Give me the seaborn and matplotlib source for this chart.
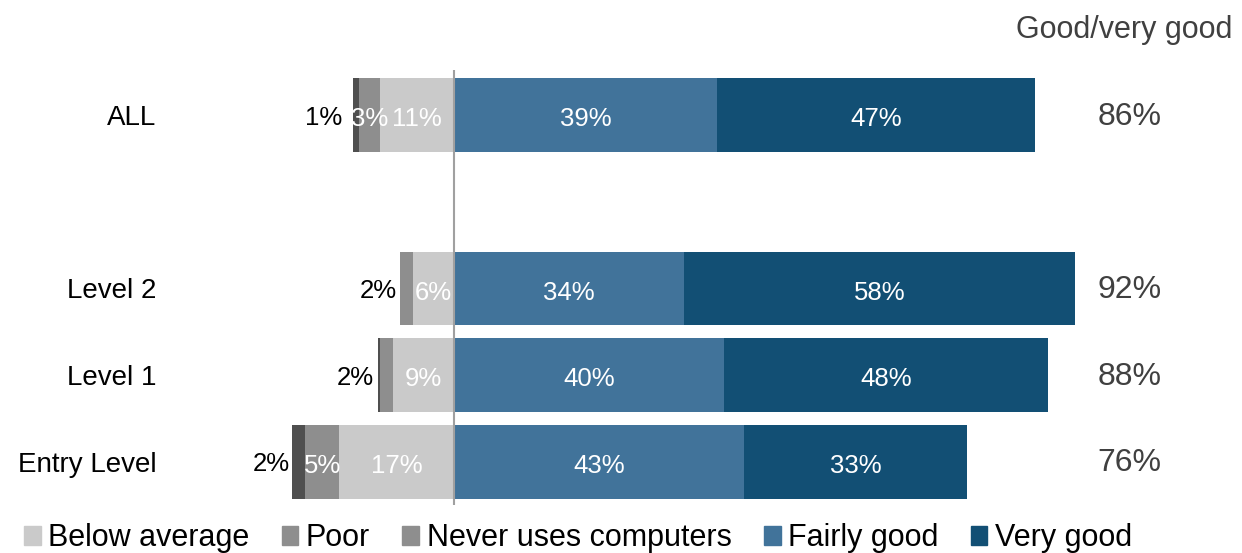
import pandas as pd
import seaborn as sns
import matplotlib.pyplot as plt
from matplotlib.patches import Patch

# data
categories = ["ALL", "Level 2", "Level 1", "Entry Level"]
below_avg = [11, 6, 9, 17]
poor = [3, 2, 2, 5]
never = [1, 0, 0.3, 2]
fairly_good = [39, 34, 40, 43]
very_good = [47, 58, 48, 33]
good_total = ["86%", "92%", "88%", "76%"]
order = ["ALL", " ", "Level 2", "Level 1", "Entry Level"]

c_below = "#cacaca"
c_poor = "#8e8e8e"
c_never = "#4f4f4f"
c_fair = "#41739a"
c_very = "#124f74"

sns.set_theme(style="white")
plt.rcParams["font.family"] = ["Liberation Sans", "DejaVu Sans"]

df = pd.DataFrame({
    "cat": categories,
    "below": below_avg,
    "poor": poor,
    "never": never,
    "fair": fairly_good,
    "very": very_good,
})
# cumulative ends for the overlapping-bar stacking trick
df["left3"] = -(df["below"] + df["poor"] + df["never"])
df["left2"] = -(df["below"] + df["poor"])
df["left1"] = -df["below"]
df["right2"] = df["fair"] + df["very"]
df["right1"] = df["fair"]

fig = plt.figure(figsize=(12.42, 5.53), dpi=100)
ax = fig.add_axes([165 / 1242, 48 / 553, 1 - 165 / 1242, 435 / 553])

for col, colr in [("left3", c_never), ("left2", c_poor), ("left1", c_below),
                  ("right2", c_very), ("right1", c_fair)]:
    sns.barplot(data=df, x=col, y="cat", order=order, orient="h",
                color=colr, width=0.85, saturation=1, linewidth=0, ax=ax)

ax.set_xlim(-42.8, 116.7)
ax.set_ylim(4.5, -0.52)
ax.axvline(0, color="#a0a0a0", lw=1.5)
for s in ax.spines.values():
    s.set_visible(False)
ax.set_xlabel("")
ax.set_ylabel("")
ax.set_xticks([])
ax.tick_params(axis="y", length=0, pad=6)
ax.set_yticklabels(order, fontsize=20, color="black")

ypos = [0, 2, 3, 4]
lab_kw = dict(ha="center", va="center", fontsize=18.5)
for i, y in enumerate(ypos):
    b, p, n = below_avg[i], poor[i], never[i]
    f, v = fairly_good[i], very_good[i]
    yl = y + 0.05
    ax.text(-b / 2, yl, f"{b}%", color="white", **lab_kw)
    ax.text(f / 2, yl, f"{f}%", color="white", **lab_kw)
    ax.text(f + v / 2, yl, f"{v}%", color="white", **lab_kw)
    end = -(b + p + n)
    if p >= 3:
        ax.text(-b - p / 2, yl, f"{p}%", color="white", **lab_kw)
        outside = f"{n:g}%"
        gap = 1.6 if i == 0 else 0.3
    else:
        outside = f"{p}%"
        gap = 0.5
    ax.text(end - gap, y + 0.03, outside, color="black", ha="right",
            va="center", fontsize=18.5)
    ax.text(100.0, y + 0.02, good_total[i], color="#404040", ha="center",
            va="center", fontsize=23)

fig.text(1124 / 1242, 1 - 30 / 553, "Good/very good", color="#404040",
         ha="center", va="center", fontsize=22)

handles = [Patch(color=c_below), Patch(color=c_poor), Patch(color=c_poor),
           Patch(color=c_fair), Patch(color=c_very)]
labels = ["Below average", "Poor", "Never uses computers", "Fairly good",
          "Very good"]
fig.legend(handles, labels, loc="lower left", bbox_to_anchor=(-0.003, -0.05),
           ncol=5, frameon=False, fontsize=22, handlelength=0.55,
           handleheight=0.55, handletextpad=0.25, columnspacing=1.05,
           labelcolor="black")

plt.savefig("out.png", dpi=100)
